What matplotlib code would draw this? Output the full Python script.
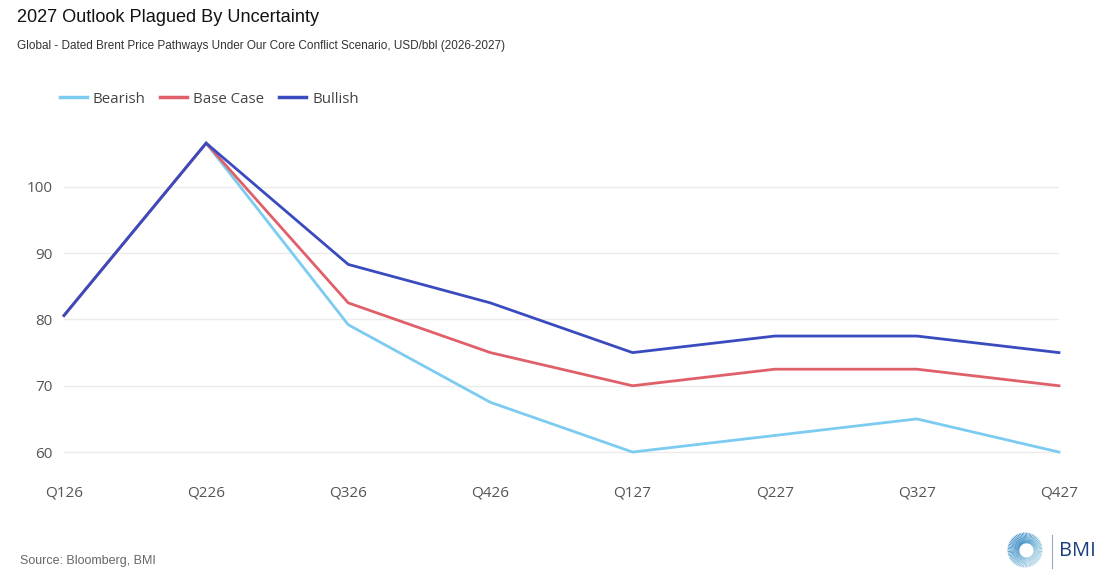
import matplotlib
matplotlib.use("Agg")
import matplotlib.pyplot as plt
import numpy as np

categories = ["Q126", "Q226", "Q326", "Q426", "Q127", "Q227", "Q327", "Q427"]
bearish = [80.6, 106.6, 79.2, 67.5, 60.0, 62.5, 65.0, 60.0]
base_case = [80.6, 106.6, 82.5, 75.0, 70.0, 72.5, 72.5, 70.0]
bullish = [80.6, 106.6, 88.3, 82.5, 75.0, 77.5, 77.5, 75.0]
yticks = [60, 70, 80, 90, 100]

title = "2027 Outlook Plagued By Uncertainty"
subtitle = "Global - Dated Brent Price Pathways Under Our Core Conflict Scenario, USD/bbl (2026-2027)"
source = "Source: Bloomberg, BMI"

W, H = 1120, 582
fig = plt.figure(figsize=(W / 100, H / 100), dpi=100)
fig.patch.set_facecolor("white")

ymin, ymax = 55, 110
y_top_px, y_bot_px = 120.6, 485.2
x_left_px, x_right_px = 64, 1059
ax = fig.add_axes([x_left_px / W, 1 - y_bot_px / H,
                   (x_right_px - x_left_px) / W, (y_bot_px - y_top_px) / H])
ax.set_facecolor("white")

x = np.arange(len(categories))
c_bear, c_base, c_bull = "#7ccbf0", "#e0606a", "#3a4bbf"
ax.plot(x, bearish, color=c_bear, lw=2.0, label="Bearish", solid_joinstyle="miter", zorder=3)
ax.plot(x, base_case, color=c_base, lw=2.0, label="Base Case", solid_joinstyle="miter", zorder=4)
ax.plot(x, bullish, color=c_bull, lw=2.0, label="Bullish", solid_joinstyle="miter", zorder=5)

ax.set_xlim(0, len(categories) - 1)
ax.set_ylim(ymin, ymax)
ax.set_yticks(yticks)
ax.set_xticks(x)
ax.set_xticklabels(categories)
for s in ax.spines.values():
    s.set_visible(False)
ax.grid(axis="y", color="#ebebeb", lw=1.0, zorder=0)
ax.grid(axis="x", visible=False)
ax.tick_params(axis="both", length=0, labelsize=11, labelcolor="#555555")
ax.tick_params(axis="y", pad=8)
ax.tick_params(axis="x", pad=0)
for line in ax.get_lines():
    line.set_clip_on(False)
for lab in ax.get_yticklabels() + ax.get_xticklabels():
    lab.set_fontfamily("Open Sans")

# Title, subtitle
fig.text(17 / W, 1 - 18 / H, title, fontsize=13.1, color="#111111",
         family="Liberation Sans", va="center", ha="left")
fig.text(17 / W, 1 - 46 / H, subtitle, fontsize=8.5, color="#333333",
         family="Liberation Sans", va="center", ha="left")

# Legend
leg = fig.legend(loc="center left", bbox_to_anchor=(46 / W, 1 - 99 / H), ncol=3,
                 frameon=False, prop={"family": "Open Sans", "size": 10.8},
                 handlelength=1.8, handletextpad=0.4, columnspacing=1.0)
for t in leg.get_texts():
    t.set_color("#444444")
for l in leg.get_lines():
    l.set_linewidth(2.5)

# Source
fig.text(20 / W, 1 - 561 / H, source, fontsize=9, color="#666666",
         family="Liberation Sans", va="center", ha="left")

# BMI logo
lax = fig.add_axes([1007 / W, 1 - 568 / H, 36 / W, 36 / H])
lax.set_xlim(-1, 1)
lax.set_ylim(-1, 1)
lax.set_aspect("equal")
lax.axis("off")
angles = np.linspace(0, 2 * np.pi, 72, endpoint=False)
cx, cy, rh = 0.08, -0.02, 0.42
for a in angles:
    dx, dy = np.cos(a), np.sin(a)
    sx, sy = cx + rh * dx, cy + rh * dy
    ex, ey = 0.95 * dx, 0.95 * dy
    col = plt.cm.Blues(0.35 + 0.3 * (0.5 + 0.5 * np.cos(a - 2.3)))
    lax.plot([sx, ex], [sy, ey], color=col, lw=0.6)
fig.add_artist(plt.Line2D([1052 / W, 1052 / W], [1 - 535 / H, 1 - 568 / H],
                          color="#9aa6bd", lw=0.8))
fig.text(1059 / W, 1 - 551 / H, "BMI", fontsize=14.5, color="#1b3f7a",
         family="Open Sans", va="center", ha="left")

fig.savefig("out.png", dpi=100, facecolor="white")
